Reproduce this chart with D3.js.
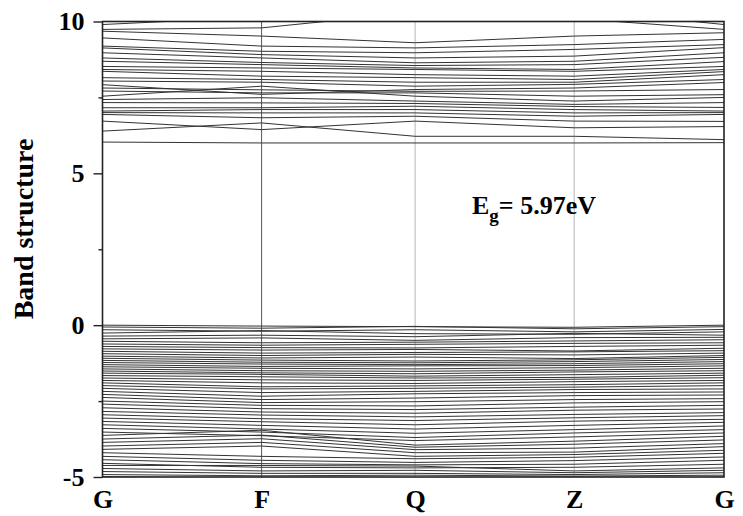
<!DOCTYPE html>
<html><head><meta charset="utf-8">
<script src="https://cdn.jsdelivr.net/npm/d3@7"></script>
<style>
body{margin:0;background:#fff;}
text{font-family:"Liberation Serif","Times New Roman",serif;font-weight:bold;fill:#000;}
</style></head>
<body><svg id="c" width="743" height="516"></svg>
<script>
// High-symmetry k-points (fractional path coordinate)
const kLabels = ["G","F","Q","Z","G"];
const kPositions = [0, 0.256, 0.503, 0.759, 1.0];
const yTicks = [-5, 0, 5, 10];
const yMinorTicks = [-2.5, 2.5, 7.5];
const gapLabel = "5.97eV";

// Conduction bands: energies (eV) at G, F, Q, Z, G
const conductionBands = [
  [6.03, 6.00, 6.00, 6.00, 6.01],
  [6.39, 6.66, 6.22, 6.22, 6.11],
  [6.72, 6.44, 6.72, 6.50, 6.54],
  [6.94, 6.83, 6.88, 6.72, 6.71],
  [7.00, 6.99, 6.99, 6.88, 6.94],
  [7.05, 7.10, 7.10, 6.99, 7.00],
  [7.16, 7.16, 7.21, 7.10, 7.05],
  [7.33, 7.32, 7.30, 7.20, 7.17],
  [7.43, 7.49, 7.38, 7.27, 7.33],
  [7.54, 7.87, 7.54, 7.38, 7.50],
  [7.71, 7.65, 7.65, 7.54, 7.59],
  [7.81, 7.75, 7.70, 7.71, 7.76],
  [7.92, 7.60, 7.76, 7.81, 7.99],
  [8.04, 8.00, 7.87, 7.93, 8.09],
  [8.15, 8.09, 8.00, 8.00, 8.25],
  [8.36, 8.20, 8.15, 8.09, 8.35],
  [8.42, 8.36, 8.25, 8.20, 8.42],
  [8.52, 8.47, 8.42, 8.36, 8.52],
  [8.69, 8.58, 8.47, 8.42, 8.68],
  [8.80, 8.65, 8.55, 8.58, 8.82],
  [8.97, 8.80, 8.64, 8.69, 8.97],
  [9.13, 8.91, 8.80, 8.86, 9.14],
  [9.19, 9.02, 8.97, 9.08, 9.24],
  [9.46, 9.19, 9.13, 9.24, 9.41],
  [9.68, 9.52, 9.30, 9.52, 9.63],
  [9.74, 9.79, 10.30, 10.10, 9.74],
  [9.90, 10.15, 10.60, 10.40, 9.90]
];

// Valence bands: energies (eV) at G, F, Q, Z, G
const valenceBands = [
  [0.00, -0.03, -0.05, -0.07, 0.00],
  [-0.06, -0.10, -0.04, -0.12, -0.05],
  [-0.15, -0.20, -0.15, -0.22, -0.14],
  [-0.26, -0.18, -0.28, -0.30, -0.22],
  [-0.36, -0.33, -0.38, -0.27, -0.33],
  [-0.45, -0.42, -0.50, -0.41, -0.40],
  [-0.53, -0.58, -0.56, -0.52, -0.48],
  [-0.62, -0.66, -0.63, -0.60, -0.58],
  [-0.70, -0.74, -0.75, -0.70, -0.66],
  [-0.78, -0.82, -0.80, -0.85, -0.76],
  [-0.86, -0.92, -0.90, -0.88, -0.84],
  [-0.94, -1.00, -0.96, -0.98, -0.92],
  [-1.02, -1.08, -1.05, -1.10, -1.00],
  [-1.09, -1.15, -1.18, -1.14, -1.06],
  [-1.16, -1.22, -1.24, -1.20, -1.13],
  [-1.23, -1.28, -1.30, -1.27, -1.20],
  [-1.30, -1.36, -1.34, -1.33, -1.27],
  [-1.37, -1.42, -1.44, -1.40, -1.34],
  [-1.44, -1.50, -1.52, -1.48, -1.42],
  [-1.51, -1.57, -1.60, -1.54, -1.50],
  [-1.58, -1.62, -1.68, -1.63, -1.58],
  [-1.66, -1.70, -1.74, -1.72, -1.65],
  [-1.74, -1.80, -1.82, -1.78, -1.73],
  [-1.82, -1.90, -1.92, -1.86, -1.82],
  [-1.90, -2.03, -2.00, -1.96, -1.90],
  [-1.99, -2.10, -2.08, -2.04, -1.99],
  [-2.08, -2.22, -2.18, -2.12, -2.10],
  [-2.18, -2.34, -2.26, -2.22, -2.20],
  [-2.28, -2.45, -2.40, -2.32, -2.30],
  [-2.38, -2.55, -2.52, -2.45, -2.42],
  [-2.50, -2.64, -2.66, -2.56, -2.52],
  [-2.60, -2.75, -2.78, -2.70, -2.64],
  [-2.72, -2.86, -2.90, -2.80, -2.76],
  [-2.84, -2.96, -3.02, -2.94, -2.88],
  [-2.95, -3.08, -3.14, -3.05, -2.98],
  [-3.06, -3.18, -3.28, -3.16, -3.10],
  [-3.17, -3.30, -3.42, -3.30, -3.20],
  [-3.28, -3.42, -3.56, -3.44, -3.32],
  [-3.40, -3.52, -3.70, -3.55, -3.44],
  [-3.52, -3.64, -3.80, -3.68, -3.55],
  [-3.63, -3.46, -3.95, -3.82, -3.66],
  [-3.75, -3.62, -4.02, -3.92, -3.78],
  [-3.86, -3.74, -4.10, -4.05, -3.90],
  [-3.98, -3.86, -4.20, -4.18, -4.00],
  [-4.09, -3.98, -4.32, -4.26, -4.12],
  [-4.20, -4.32, -4.40, -4.35, -4.22],
  [-4.32, -4.45, -4.52, -4.46, -4.34],
  [-4.43, -4.56, -4.60, -4.58, -4.45],
  [-4.55, -4.68, -4.70, -4.68, -4.58],
  [-4.62, -4.62, -4.64, -4.80, -4.70],
  [-4.72, -4.80, -4.78, -4.86, -4.78],
  [-4.82, -4.88, -4.88, -4.92, -4.86],
  [-4.92, -4.96, -4.94, -4.97, -4.94],
  [-4.99, -5.05, -5.10, -5.08, -5.00]
];

const svg = d3.select("#c");
const L = 102.5, T = 21.5, R = 724, B = 477;
const x = d3.scaleLinear().domain([0, 1]).range([L, R]);
const y = d3.scaleLinear().domain([-5, 10]).range([B, T]);

svg.append("defs").append("clipPath").attr("id","clip")
  .append("rect").attr("x",L).attr("y",T).attr("width",R-L).attr("height",B-T);

const g = svg.append("g").attr("clip-path","url(#clip)");

// high-symmetry vertical lines
g.selectAll("line.ks").data(kPositions.slice(1,-1)).enter().append("line")
  .attr("x1",d=>x(d)).attr("x2",d=>x(d)).attr("y1",T).attr("y2",B)
  .attr("stroke",(d,i)=> i===0 ? "#555" : "#b5b5b5").attr("stroke-width",1);

const line = d3.line().x((d,i)=>x(kPositions[i])).y(d=>y(d));
const allBands = conductionBands.concat(valenceBands);
g.selectAll("path.band").data(allBands).enter().append("path")
  .attr("d", line).attr("fill","none").attr("stroke","#333").attr("stroke-width",1);

// frame
svg.append("rect").attr("x",L).attr("y",T).attr("width",R-L).attr("height",B-T)
  .attr("fill","none").attr("stroke","#222").attr("stroke-width",1.6);

// y axis
const yAxis = d3.axisLeft(y).tickValues(yTicks).tickSize(9).tickPadding(9).tickFormat(d => String(d));
const ya = svg.append("g").attr("transform",`translate(${L},0)`).call(yAxis);
ya.select(".domain").remove();
ya.selectAll(".tick line").attr("stroke","#222").attr("stroke-width",1.4);
ya.selectAll(".tick text").style("font-size","26px").style("font-family","'Liberation Serif',serif").style("font-weight","bold").attr("fill","#000");
const yMinor = d3.axisLeft(y).tickValues(yMinorTicks).tickSize(4).tickFormat("");
const ym = svg.append("g").attr("transform",`translate(${L},0)`).call(yMinor);
ym.select(".domain").remove();
ym.selectAll(".tick line").attr("stroke","#222").attr("stroke-width",1.4);

// x labels
const xAxis = d3.axisBottom(x).tickValues(kPositions).tickSize(0).tickPadding(13).tickFormat((d,i)=>kLabels[i]);
const xa = svg.append("g").attr("transform",`translate(0,${B})`).call(xAxis);
xa.select(".domain").remove();
xa.selectAll(".tick text").style("font-size","26px").style("font-family","'Liberation Serif',serif").style("font-weight","bold").attr("fill","#000");

// y title
svg.append("text").attr("transform","translate(33,229) rotate(-90)").attr("text-anchor","middle")
  .style("font-size","28px").text("Band structure");

// gap label
const t = svg.append("text").attr("x",472).attr("y",214).style("font-size","26px");
t.append("tspan").text("E");
t.append("tspan").attr("dy",8).style("font-size","19px").text("g");
t.append("tspan").attr("dy",-8).text("= " + gapLabel);
</script></body></html>
